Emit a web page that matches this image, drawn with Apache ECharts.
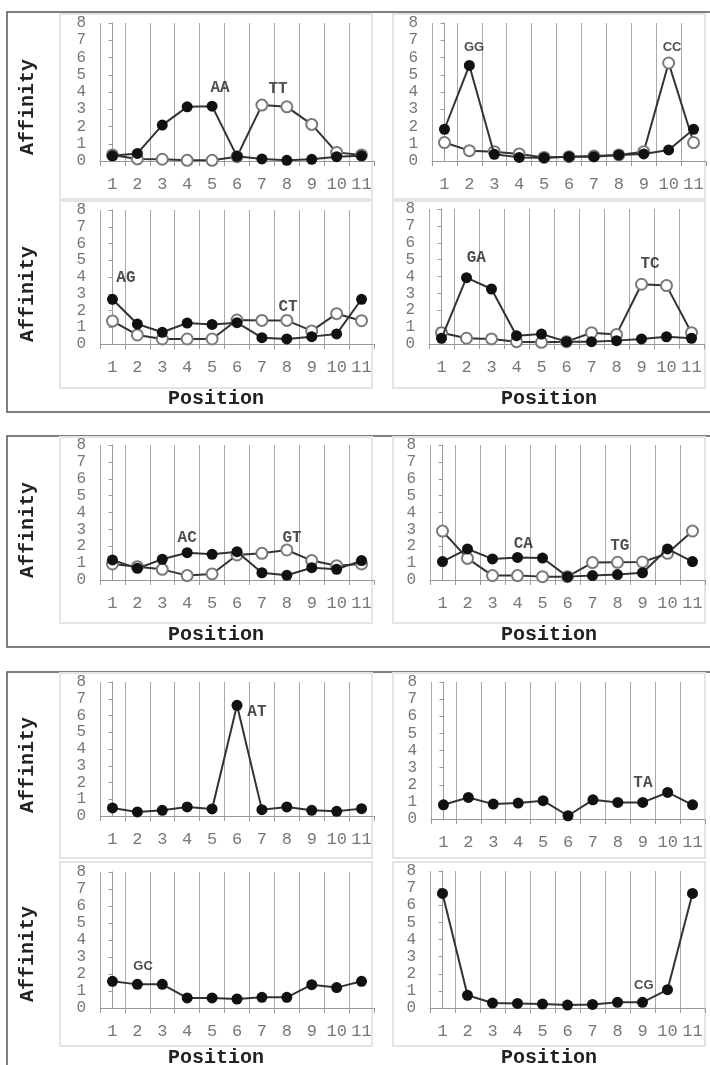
<!DOCTYPE html>
<html>
<head>
<meta charset="utf-8">
<script src="https://cdn.jsdelivr.net/npm/echarts@6.0.0/dist/echarts.min.js"></script>
<style>
  html, body { margin: 0; background: #fff; }
  #main { width: 710px; height: 1065px; }
</style>
</head>
<body>
<div id="main"></div>
<script>
// x categories
var positions = ['1', '2', '3', '4', '5', '6', '7', '8', '9', '10', '11'];
var yTicks = [0, 8, 1]; // min, max, step

// affinity per position
var aa = [0.3, 0.44, 2.08, 3.14, 3.18, 0.27, 0.12, 0.04, 0.1, 0.25, 0.3];
var tt = [0.35, 0.12, 0.1, 0.04, 0.04, 0.25, 3.24, 3.14, 2.12, 0.5, 0.35];
var gg = [1.84, 5.54, 0.39, 0.21, 0.19, 0.25, 0.25, 0.35, 0.41, 0.64, 1.84];
var cc = [1.07, 0.6, 0.54, 0.41, 0.21, 0.25, 0.29, 0.35, 0.54, 5.68, 1.07];
var ag = [2.67, 1.19, 0.7, 1.25, 1.17, 1.27, 0.38, 0.3, 0.44, 0.6, 2.67];
var ct = [1.37, 0.54, 0.3, 0.3, 0.3, 1.43, 1.41, 1.41, 0.78, 1.81, 1.39];
var ga = [0.34, 3.93, 3.26, 0.49, 0.59, 0.14, 0.14, 0.2, 0.3, 0.43, 0.34];
var tc = [0.67, 0.34, 0.3, 0.14, 0.1, 0.14, 0.67, 0.57, 3.54, 3.46, 0.67];
var ac = [1.19, 0.69, 1.23, 1.62, 1.52, 1.68, 0.43, 0.28, 0.73, 0.63, 1.15];
var gt = [0.95, 0.79, 0.63, 0.26, 0.36, 1.48, 1.58, 1.78, 1.15, 0.85, 0.95];
var ca = [1.09, 1.84, 1.25, 1.34, 1.3, 0.2, 0.26, 0.32, 0.43, 1.84, 1.09];
var tg = [2.9, 1.28, 0.26, 0.26, 0.2, 0.2, 1.03, 1.05, 1.07, 1.58, 2.9];
var at = [0.48, 0.24, 0.34, 0.54, 0.42, 6.61, 0.38, 0.54, 0.34, 0.28, 0.44];
var ta = [0.83, 1.26, 0.87, 0.93, 1.07, 0.19, 1.12, 0.97, 0.97, 1.55, 0.83];
var gc = [1.57, 1.39, 1.39, 0.59, 0.59, 0.53, 0.63, 0.63, 1.37, 1.2, 1.57];
var cg = [6.69, 0.74, 0.29, 0.27, 0.23, 0.17, 0.21, 0.33, 0.33, 1.07, 6.69];

// filled series / open series for each small chart (reading order)
var filledSets = [aa, gg, ag, ga, ac, ca, at, ta, gc, cg];
var openSets = [tt, cc, ct, tc, gt, tg, null, null, null, null];

// dinucleotide tags: [text, position index (0 = pos 1), affinity, font]
var notes = [
  [['AA', 4.32, 4.23, 'mono'], ['TT', 6.65, 4.17, 'mono']],
  [['GG', 1.19, 6.6, 'sans'], ['CC', 9.14, 6.6, 'sans']],
  [['AG', 0.54, 3.94, 'mono'], ['CT', 7.05, 2.2, 'mono']],
  [['GA', 1.39, 5.07, 'mono'], ['TC', 8.34, 4.72, 'mono']],
  [['AC', 3.0, 2.49, 'mono'], ['GT', 7.21, 2.49, 'mono']],
  [['CA', 3.23, 2.13, 'mono'], ['TG', 7.09, 2.01, 'mono']],
  [['AT', 5.8, 6.2, 'mono']],
  [['TA', 8.01, 2.1, 'mono']],
  [['GC', 1.23, 2.47, 'sans']],
  [['CG', 8.05, 1.29, 'sans']]
];

// layout
var grids = [
  { left: 100, top: 23, width: 274, height: 138 },
  { left: 432, top: 23, width: 274, height: 138 },
  { left: 100, top: 210, width: 274, height: 134 },
  { left: 429, top: 209, width: 275, height: 135 },
  { left: 100, top: 445, width: 274, height: 135 },
  { left: 430, top: 445, width: 275, height: 135 },
  { left: 100, top: 682, width: 274, height: 134 },
  { left: 431, top: 682, width: 274, height: 137 },
  { left: 100, top: 872, width: 274, height: 136 },
  { left: 430, top: 871, width: 275, height: 137 }
];
var panels = [
  [60, 14, 312, 185], [393, 14, 312, 185],
  [60, 201, 312, 187], [393, 201, 312, 187],
  [60, 437, 312, 186], [393, 437, 312, 186],
  [60, 673, 312, 185], [393, 673, 312, 185],
  [60, 862, 312, 184], [393, 862, 312, 184]
];
var boxes = [[7, 12, 710, 400], [7, 436, 710, 211], [7, 672, 710, 420]];
var affinityY = [107, 294, 530, 765, 954];
var positionY = [399, 635, 1058];

var mono = '"Liberation Mono", "Courier New", monospace';
var sans = '"Liberation Sans", Arial, sans-serif';
var axisGrey = '#9a9a9a';
var labelGrey = '#777';

var xAxes = [], yAxes = [], series = [];
grids.forEach(function (g, i) {
  xAxes.push({
    type: 'category', gridIndex: i, data: positions, boundaryGap: true,
    axisLine: { lineStyle: { color: axisGrey, width: 1 } },
    axisTick: { show: true, length: 5, lineStyle: { color: axisGrey } },
    axisLabel: { color: labelGrey, fontFamily: mono, fontSize: 17, margin: 15, interval: 0, hideOverlap: false },
    splitLine: { show: true, showMaxLine: false, lineStyle: { color: '#a8a8a8', width: 1 } }
  });
  // hidden linear twin used to place the tags between categories
  xAxes.push({
    type: 'value', gridIndex: i, min: -0.5, max: 10.5, show: false,
    splitLine: { show: false }
  });
  yAxes.push({
    type: 'value', gridIndex: i, min: yTicks[0], max: yTicks[1], interval: yTicks[2],
    axisLine: { show: true, lineStyle: { color: axisGrey, width: 1 } },
    axisTick: { show: true, length: 4, lineStyle: { color: axisGrey } },
    axisLabel: {
      color: labelGrey, fontFamily: mono, fontSize: 16, margin: 14,
      showMinLabel: true, showMaxLabel: true, hideOverlap: false
    },
    splitLine: { show: false }
  });

  if (openSets[i]) {
    series.push({
      type: 'line', xAxisIndex: 2 * i, yAxisIndex: i, data: openSets[i],
      symbol: 'emptyCircle', symbolSize: 11, z: 2,
      lineStyle: { color: '#333', width: 2 },
      itemStyle: { color: '#7a7a7a', borderWidth: 1.2 },
      animation: false
    });
  }
  series.push({
    type: 'line', xAxisIndex: 2 * i, yAxisIndex: i, data: filledSets[i],
    symbol: 'circle', symbolSize: 11, z: 3,
    lineStyle: { color: '#333', width: 2 },
    itemStyle: { color: '#111', borderWidth: 0 },
    animation: false
  });
  series.push({
    type: 'scatter', xAxisIndex: 2 * i + 1, yAxisIndex: i, symbolSize: 0, z: 4,
    data: notes[i].map(function (n) { return { value: [n[1], n[2]], name: n[0], font: n[3] }; }),
    label: {
      show: true, position: 'inside', color: '#222', fontWeight: 'bold',
      formatter: function (p) { return p.name; }
    },
    animation: false
  });
});

// per-tag font family
series.forEach(function (s) {
  if (s.type === 'scatter') {
    s.data.forEach(function (d) {
      d.label = d.font === 'sans'
        ? { fontFamily: sans, fontSize: 13 }
        : { fontFamily: mono, fontSize: 16 };
    });
  }
});

var graphics = [];
boxes.forEach(function (b) {
  graphics.push({ type: 'rect', shape: { x: b[0], y: b[1], width: b[2], height: b[3] },
    style: { fill: null, stroke: '#555', lineWidth: 1.5 }, z: 0 });
});
panels.forEach(function (p) {
  graphics.push({ type: 'rect', shape: { x: p[0], y: p[1], width: p[2], height: p[3] },
    style: { fill: null, stroke: '#e4e4e4', lineWidth: 2 }, z: 0 });
});
affinityY.forEach(function (y) {
  graphics.push({ type: 'text', x: 28, y: y, rotation: Math.PI / 2,
    style: { text: 'Affinity', font: 'bold 20px ' + mono, fill: '#222', align: 'center', verticalAlign: 'middle' } });
});
positionY.forEach(function (y) {
  [216, 549].forEach(function (x) {
    graphics.push({ type: 'text', x: x, y: y,
      style: { text: 'Position', font: 'bold 20px ' + mono, fill: '#222', align: 'center', verticalAlign: 'middle' } });
  });
});

var chart = echarts.init(document.getElementById('main'));
chart.setOption({
  backgroundColor: '#fff',
  animation: false,
  grid: grids,
  xAxis: xAxes,
  yAxis: yAxes,
  series: series,
  graphic: graphics
});
</script>
</body>
</html>
